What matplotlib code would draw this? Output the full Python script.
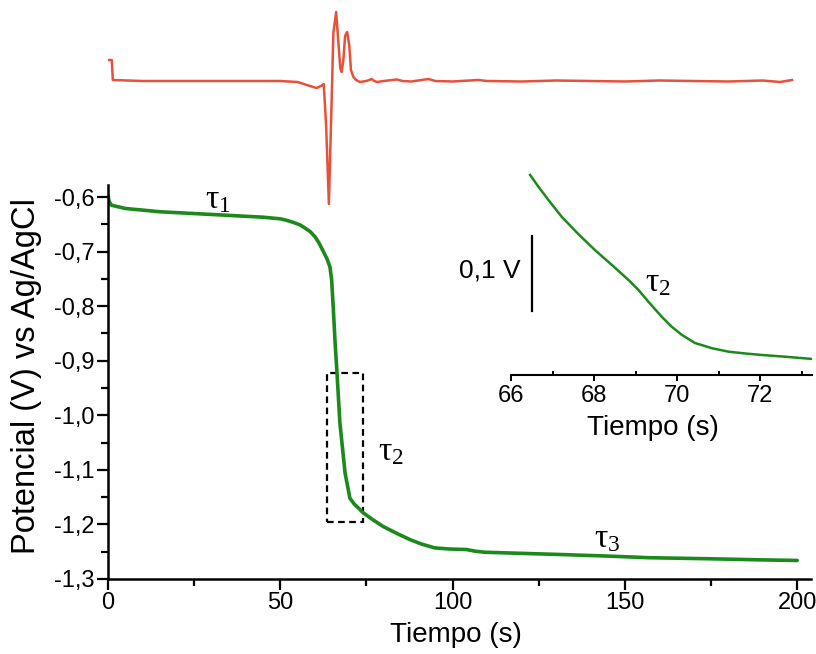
import matplotlib
matplotlib.use("Agg")
import matplotlib.pyplot as plt
from matplotlib.patches import Rectangle
from matplotlib.ticker import MultipleLocator

plt.rcParams['font.family'] = ['Liberation Sans', 'DejaVu Sans']
plt.rcParams['mathtext.fontset'] = 'custom'
plt.rcParams['mathtext.rm'] = 'Liberation Serif'
plt.rcParams['mathtext.it'] = 'Liberation Serif'

# ---- data ----
t_main = [0, 0.3, 1, 5, 15, 30, 45, 50, 52, 54, 55.7, 57.2, 58.6, 60.1, 61.2, 62.5, 63.6,
          64.4, 64.9, 65.4, 65.9, 66.4, 67.3, 68.8, 70.2, 71.5, 72.7, 74.1, 77, 79.9, 84,
          87.7, 91, 94.8, 99, 104, 106.5, 109.4, 120, 130.6, 145, 157.2, 175, 190, 200]
v_main = [-0.596, -0.608, -0.615, -0.621, -0.627, -0.632, -0.637, -0.640, -0.643, -0.647,
          -0.651, -0.657, -0.663, -0.673, -0.684, -0.700, -0.714, -0.728, -0.752, -0.807,
          -0.867, -0.917, -1.0145, -1.106, -1.152, -1.163, -1.170, -1.179, -1.192, -1.204,
          -1.217, -1.228, -1.236, -1.243, -1.245, -1.246, -1.249, -1.251, -1.253, -1.255,
          -1.258, -1.261, -1.263, -1.265, -1.266]

t_red = [0, 1.1, 1.4, 10, 30, 50, 55, 58.6, 60.5, 61.8, 62.6, 63.3, 64.1, 64.9, 65.4, 66.2,
         66.8, 67.4, 67.8, 68.3, 68.8, 69.4, 70.0, 70.5, 71.2, 72.0, 73.1, 75, 76.5, 77.3,
         78.1, 80, 83.8, 85.5, 88, 93, 95, 100, 107.4, 110, 120, 130, 140, 150, 160, 170,
         180, 190, 195, 198.5]
d_red = [0.21, 0.21, 0.01, 0.0, 0.0, 0.0, -0.01, -0.05, -0.07, -0.05, -0.03, -0.45, -1.23,
         -0.19, 0.48, 0.69, 0.41, 0.13, 0.09, 0.21, 0.45, 0.49, 0.36, 0.11, 0.04, 0.01, -0.01,
         0.0, 0.02, 0.0, -0.01, 0.0, 0.015, 0.0, -0.005, 0.02, 0.0, -0.005, 0.01, 0.0,
         -0.005, 0.005, 0.0, -0.005, 0.005, 0.0, -0.005, 0.005, -0.01, 0.01]

t_ins = [66.46, 66.66, 66.90, 67.22, 67.62, 68.02, 68.43, 68.83, 69.07, 69.31, 69.63, 69.87,
         70.11, 70.43, 70.84, 71.24, 71.64, 72.04, 72.60, 73.25]
v_ins = [-0.925, -0.9406, -0.9583, -0.9806, -1.0037, -1.025, -1.045, -1.065, -1.0783,
         -1.094, -1.114, -1.1273, -1.138, -1.149, -1.156, -1.1606, -1.163, -1.165, -1.1673,
         -1.1703]

y_ticks = [-0.6, -0.7, -0.8, -0.9, -1.0, -1.1, -1.2, -1.3]
y_ticklabels = ['-0,6', '-0,7', '-0,8', '-0,9', '-1,0', '-1,1', '-1,2', '-1,3']
x_ticks = [0, 50, 100, 150, 200]
x_ticklabels = ['0', '50', '100', '150', '200']
ins_ticks = [66, 68, 70, 72]
ins_ticklabels = ['66', '68', '70', '72']

box = (63.5, -1.195, 74.1, -0.923)   # t0, v0, t1, v1
scalebar = (66.5, -1.006, -1.106)

GREEN = '#1b8a1b'
RED = '#e8503a'

W, H = 816, 654
fig = plt.figure(figsize=(W / 100, H / 100), dpi=100)

def fx(px):
    return px / W

def fy(py):
    return 1 - py / H

# main axes
L, R, T, B = 108, 811, 185, 579
ax = fig.add_axes([fx(L), fy(B), fx(R) - fx(L), fy(T) - fy(B)])
ax.plot(t_main, v_main, color=GREEN, lw=2.6, solid_capstyle='round', solid_joinstyle='round')
ax.set_xlim(0, 204)
ax.set_ylim(-1.3, -0.578)
for s in ['top', 'right']:
    ax.spines[s].set_visible(False)
for s in ['left', 'bottom']:
    ax.spines[s].set_linewidth(1.8)
ax.set_yticks(y_ticks)
ax.set_yticklabels(y_ticklabels)
ax.set_xticks(x_ticks)
ax.set_xticklabels(x_ticklabels)
ax.yaxis.set_minor_locator(MultipleLocator(0.05))
ax.xaxis.set_minor_locator(MultipleLocator(25))
ax.tick_params(which='major', direction='out', length=8, width=1.6, labelsize=17, pad=1.5)
ax.tick_params(which='minor', direction='out', length=5, width=1.6)
ax.set_xlabel('Tiempo (s)', fontsize=20)
ax.set_ylabel('Potencial (V) vs Ag/AgCl', fontsize=23.5)
ax.xaxis.set_label_coords(0.495, -0.108)
ax.yaxis.set_label_coords(-0.094, 0.515)

ax.add_patch(Rectangle((box[0], box[1]), box[2] - box[0], box[3] - box[1],
                       fill=False, ls=(0, (3, 2)), lw=1.6, ec='black'))

tau_kw = dict(fontsize=24, color='black', ha='center', va='center')
ax.text(32, -0.605, r'$\mathrm{\tau}_1$', **tau_kw)
ax.text(82, -1.066, r'$\mathrm{\tau}_2$', **tau_kw)
ax.text(145, -1.227, r'$\mathrm{\tau}_3$', **tau_kw)

# red derivative trace (top)
axr = fig.add_axes([fx(L), fy(215), fx(R) - fx(L), fy(5) - fy(215)])
axr.plot(t_red, d_red, color=RED, lw=1.8, solid_joinstyle='round')
axr.set_xlim(0, 204)
axr.set_ylim(-1.34, 0.76)
axr.axis('off')

# inset
iL, iR, iT, iB = 511, 812, 165, 375
axi = fig.add_axes([fx(iL), fy(iB), fx(iR) - fx(iL), fy(iT) - fy(iB)])
axi.patch.set_alpha(0)
axi.plot(t_ins, v_ins, color=GREEN, lw=1.8, solid_joinstyle='round')
axi.set_xlim(66, 73.25)
axi.set_ylim(-1.1917, -0.9117)
for s in ['top', 'right', 'left']:
    axi.spines[s].set_visible(False)
axi.spines['bottom'].set_linewidth(1.5)
axi.set_yticks([])
axi.set_xticks(ins_ticks)
axi.set_xticklabels(ins_ticklabels)
axi.xaxis.set_minor_locator(MultipleLocator(1))
axi.tick_params(which='major', direction='out', length=4, width=1.4, labelsize=17, pad=3)
axi.tick_params(which='minor', direction='in', length=3, width=1.4)
axi.set_xlabel('Tiempo (s)', fontsize=20)
axi.xaxis.set_label_coords(0.472, -0.19)
axi.plot([scalebar[0], scalebar[0]], [scalebar[1], scalebar[2]], color='black', lw=1.6,
         clip_on=False)
axi.text(66.22, -1.052, '0,1 V', fontsize=19, ha='right', va='center')
axi.text(69.55, -1.068, r'$\mathrm{\tau}_2$', **tau_kw)

fig.savefig('out.png', dpi=100)
